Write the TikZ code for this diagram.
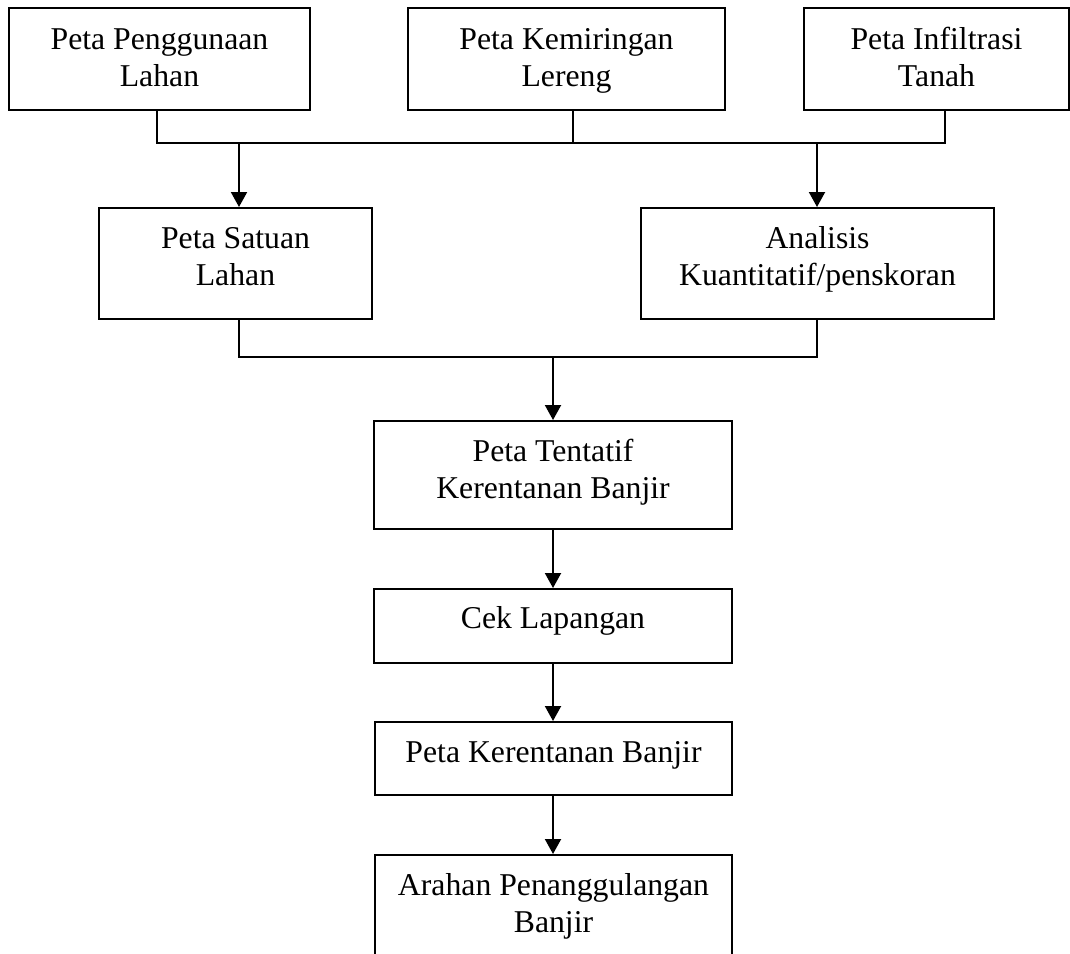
\documentclass[tikz,border=0pt]{standalone}
\usepackage{fontspec}
\setmainfont{Liberation Serif}
\usetikzlibrary{arrows.meta}
\newlength\pxu
\setlength\pxu{0.75pt}
\tikzset{
  box/.style={draw=black, line width=1.5pt, rectangle, anchor=north west,
    inner xsep=0pt, inner ysep=0pt, align=center,
    font=\fontsize{23.8pt}{27.75pt}\selectfont, text=black},
  conn/.style={draw=black, line width=1.5pt},
  arr/.style={conn, -{Triangle[length=11.25pt, width=12pt]}}
}
\begin{document}
\begin{tikzpicture}[x=0.75pt, y=-0.75pt]
\useasboundingbox (0,0) rectangle (1070,953);
\clip (0,0) rectangle (1070,953);
% top row
\node[box, minimum width=301\pxu, minimum height=102\pxu, text height=78\pxu, text depth=24\pxu] (b1) at (8,7) {Peta Penggunaan\\Lahan};
\node[box, minimum width=317\pxu, minimum height=102\pxu, text height=78\pxu, text depth=24\pxu] (b2) at (407,7) {Peta Kemiringan\\Lereng};
\node[box, minimum width=265\pxu, minimum height=102\pxu, text height=78\pxu, text depth=24\pxu] (b3) at (803,7) {Peta Infiltrasi\\Tanah};
% second row
\node[box, minimum width=273\pxu, minimum height=111\pxu, text height=77\pxu, text depth=34\pxu] (b4) at (98,207) {Peta Satuan\\Lahan};
\node[box, minimum width=353\pxu, minimum height=111\pxu, text height=77\pxu, text depth=34\pxu] (b5) at (640,207) {Analisis\\Kuantitatif/penskoran};
% column
\node[box, minimum width=358\pxu, minimum height=108\pxu, text height=77\pxu, text depth=31\pxu] (b6) at (373,420) {Peta Tentatif\\Kerentanan Banjir};
\node[box, minimum width=358\pxu, minimum height=74\pxu, text height=39\pxu, text depth=35\pxu] (b7) at (373,588) {Cek Lapangan};
\node[box, minimum width=357\pxu, minimum height=73\pxu, text height=40\pxu, text depth=33\pxu] (b8) at (374,721) {Peta Kerentanan Banjir};
\node[box, minimum width=357\pxu, minimum height=130\pxu, text height=77\pxu, text depth=53\pxu] (b9) at (374,854) {Arahan Penanggulangan\\Banjir};
% junction coordinates
\coordinate (h1) at (157,143);
\coordinate (h2) at (573,143);
\coordinate (h3) at (945,143);
\coordinate (a4) at (239,143);
\coordinate (a5) at (817,143);
\coordinate (h4) at (239,357);
\coordinate (h5) at (817,357);
\coordinate (a6) at (553,357);
% first merge
\draw[conn] (h1 |- b1.south) -- (h1) -- (h3) -- (h3 |- b3.south);
\draw[conn] (h2 |- b2.south) -- (h2);
\draw[arr] (a4) -- (a4 |- b4.north);
\draw[arr] (a5) -- (a5 |- b5.north);
% second merge
\draw[conn] (h4 |- b4.south) -- (h4) -- (h5) -- (h5 |- b5.south);
\draw[arr] (a6) -- (a6 |- b6.north);
% chain
\draw[arr] (a6 |- b6.south) -- (a6 |- b7.north);
\draw[arr] (a6 |- b7.south) -- (a6 |- b8.north);
\draw[arr] (a6 |- b8.south) -- (a6 |- b9.north);
\end{tikzpicture}
\end{document}
